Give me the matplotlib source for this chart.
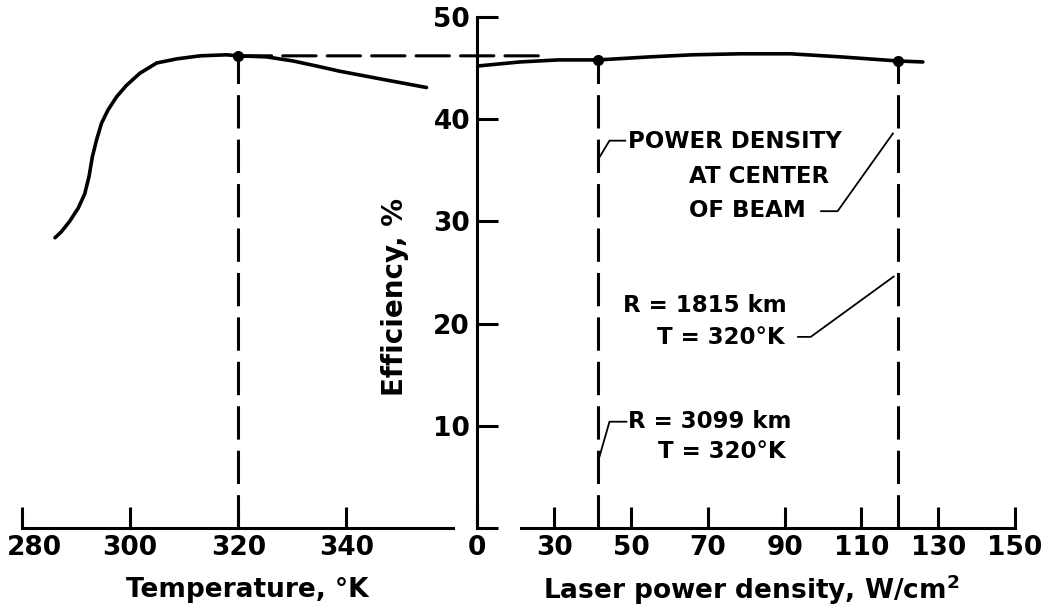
import matplotlib.pyplot as plt
from matplotlib.patches import ConnectionPatch
from matplotlib.transforms import ScaledTranslation

plt.rcParams['font.family'] = ['DejaVu Sans']
plt.rcParams['font.weight'] = 'bold'
plt.rcParams['lines.scale_dashes'] = False

# left panel: efficiency vs temperature
temp_k = [286.1, 287.3, 288.8, 290.4, 291.6, 292.4, 293.0, 293.8, 294.7, 295.9,
          297.5, 299.3, 301.8, 304.9, 308.6, 312.9, 317.8, 320.0, 325.2, 330.1,
          334.5, 338.7, 346.7, 354.8]
eff_temp = [28.4, 29.0, 30.0, 31.3, 32.7, 34.4, 36.3, 38.0, 39.6, 40.9,
            42.2, 43.3, 44.5, 45.5, 45.9, 46.2, 46.3, 46.2, 46.1, 45.7,
            45.2, 44.7, 43.9, 43.1]
temp_ticks = [280, 300, 320, 340]

# right panel: efficiency vs laser power density (axis broken after 0)
power = [9.9, 21.0, 31.0, 41.5, 55.0, 66.0, 78.5, 91.5, 104.5, 112.0, 119.5, 126.0]
eff_power = [45.2, 45.6, 45.8, 45.8, 46.1, 46.3, 46.4, 46.4, 46.1, 45.9, 45.7, 45.6]
power_ticks = [9.9, 30, 50, 70, 90, 110, 130, 150]
power_labels = ['0', '30', '50', '70', '90', '110', '130', '150']

eff_ticks = [0, 10, 20, 30, 40, 50]
eff_labels = ['', '10', '20', '30', '40', '50']

# operating points
t_op, e_op_t = 320, 46.2
p_op = [41.5, 119.5]
e_op_p = [45.8, 45.7]

W, H = 1045, 613
fig = plt.figure(figsize=(W / 100, H / 100), dpi=100)


def px_box(x0, x1, y_top, y_bot):
    return [x0 / W, 1 - y_bot / H, (x1 - x0) / W, (y_bot - y_top) / H]


LW_AX = 2.2
DASH = (0, (24, 8))
FS_TICK = 19

ax_t = fig.add_axes(px_box(22, 453, 17, 528))
ax_p = fig.add_axes(px_box(477, 1015, 17, 528))

for ax in (ax_t, ax_p):
    ax.set_ylim(0, 50)
    ax.set_facecolor('none')
    for s in ('top', 'right'):
        ax.spines[s].set_visible(False)

# temperature axes
ax_t.set_xlim(280, 359.7)
ax_t.spines['left'].set_visible(False)
ax_t.spines['bottom'].set_linewidth(LW_AX)
ax_t.set_xticks(temp_ticks)
ax_t.set_yticks([])
ax_t.tick_params(axis='x', direction='in', length=15, width=LW_AX, pad=5,
                 labelsize=FS_TICK)
# first label sits a little right of its tick, as in the original
lab0 = ax_t.xaxis.get_major_ticks()[0].label1
lab0.set_transform(lab0.get_transform() + ScaledTranslation(0.12, 0, fig.dpi_scale_trans))
ax_t.plot(temp_k, eff_temp, color='black', lw=2.6, solid_capstyle='round')
ax_t.plot([t_op, t_op], [0, e_op_t], color='black', lw=2.2, ls=DASH)
ax_t.plot([t_op], [e_op_t], 'o', color='black', ms=7)

# power axes
ax_p.set_xlim(9.9, 150)
ax_p.spines['left'].set_linewidth(LW_AX)
ax_p.spines['bottom'].set_linewidth(LW_AX)
ax_p.spines['bottom'].set_bounds(21.4, 150)
ax_p.set_xticks(power_ticks, labels=power_labels)
ax_p.set_yticks(eff_ticks, labels=eff_labels)
ax_p.tick_params(axis='x', direction='in', length=15, width=LW_AX, pad=5,
                 labelsize=FS_TICK)
ax_p.tick_params(axis='y', direction='in', length=15, width=LW_AX, pad=5,
                 labelsize=FS_TICK)
ax_p.plot(power, eff_power, color='black', lw=2.6, solid_capstyle='round')
for p, e in zip(p_op, e_op_p):
    ax_p.plot([p, p], [0, e], color='black', lw=2.2, ls=DASH)
ax_p.plot(p_op, e_op_p, 'o', color='black', ms=7)

# horizontal dashed line from the temperature optimum across to the power curve
con = ConnectionPatch(xyA=(t_op, e_op_t), coordsA=ax_t.transData,
                      xyB=(28, e_op_t), coordsB=ax_p.transData,
                      color='black', lw=2.2, ls=DASH)
fig.add_artist(con)

# annotations
FS_ANN = 16.5
ax_p.text(49.3, 37.8, 'POWER DENSITY', fontsize=FS_ANN, va='center', ha='left')
ax_p.text(65.0, 34.4, 'AT CENTER', fontsize=FS_ANN, va='center', ha='left')
ax_p.text(65.0, 31.1, 'OF BEAM', fontsize=FS_ANN, va='center', ha='left')
ax_p.plot([41.5, 44.4, 48.5], [36.1, 37.9, 37.9], color='black', lw=1.3)
ax_p.plot([99.5, 103.8, 118.2], [31.0, 31.0, 38.6], color='black', lw=1.3)

ax_p.text(48.0, 21.8, 'R = 1815 km', fontsize=FS_ANN, va='center', ha='left')
ax_p.text(56.9, 18.6, 'T = 320°K', fontsize=FS_ANN, va='center', ha='left')
ax_p.plot([93.5, 96.8, 118.4], [18.7, 18.7, 24.6], color='black', lw=1.3)

ax_p.text(49.3, 10.4, 'R = 3099 km', fontsize=FS_ANN, va='center', ha='left')
ax_p.text(57.1, 7.5, 'T = 320°K', fontsize=FS_ANN, va='center', ha='left')
ax_p.plot([41.5, 44.4, 48.8], [6.6, 10.4, 10.4], color='black', lw=1.3)

# axis titles
fig.text(395 / W, 1 - 297 / H, 'Efficiency, %', rotation=90, ha='center',
         va='center', fontsize=20)
fig.text(247 / W, 1 - 590 / H, 'Temperature, °K', ha='center', va='center',
         fontsize=19)
fig.text(751 / W, 1 - 590 / H, r'Laser power density, W/cm$^{\mathbf{2}}$',
         ha='center', va='center', fontsize=19)

fig.savefig('out.png', dpi=100)
